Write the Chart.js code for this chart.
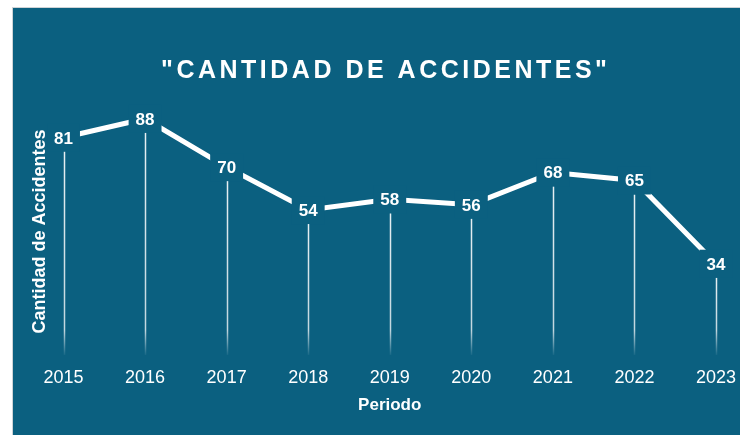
<!DOCTYPE html>
<html>
<head>
<meta charset="utf-8">
<script src="https://cdn.jsdelivr.net/npm/chart.js@4.4.0/dist/chart.umd.min.js"></script>
<style>
  html, body { margin: 0; padding: 0; background: #ffffff; }
  #wrap { width: 740px; height: 435px; }
</style>
</head>
<body>
<div id="wrap"><canvas id="chart" width="740" height="435"></canvas></div>
<script>
// Data
const periods = ['2015', '2016', '2017', '2018', '2019', '2020', '2021', '2022', '2023'];
const accidents = [81, 88, 70, 54, 58, 56, 68, 65, 34];
const chartTitle = '"CANTIDAD DE ACCIDENTES"';
const xAxisTitle = 'Periodo';
const yAxisTitle = 'Cantidad de Accidentes';

const TEAL = '#0b6080';
const FONT = "'Liberation Sans', Arial, Helvetica, sans-serif";

// Page frame: white margin, thin grey edge, teal panel
const panelBackground = {
    id: 'panelBackground',
    beforeDraw: function (chart) {
        const ctx = chart.ctx;
        ctx.save();
        ctx.fillStyle = '#ffffff';
        ctx.fillRect(0, 0, chart.width, chart.height);
        ctx.fillStyle = '#cfd3d6';
        ctx.fillRect(12, 7, chart.width - 12, chart.height - 7);
        ctx.fillStyle = TEAL;
        ctx.fillRect(13, 8, chart.width - 13, chart.height - 8);
        ctx.restore();
    }
};

// Thin fading drop line under every point
const dropLines = {
    id: 'dropLines',
    beforeDatasetsDraw: function (chart) {
        const ctx = chart.ctx;
        const yScale = chart.scales.y;
        const base = yScale.getPixelForValue(0);
        const meta = chart.getDatasetMeta(0);
        ctx.save();
        ctx.lineWidth = 1.5;
        meta.data.forEach(function (pt) {
            const top = pt.y + 14;
            const grad = ctx.createLinearGradient(0, top, 0, base);
            grad.addColorStop(0, 'rgba(255,255,255,0.9)');
            grad.addColorStop(Math.max(0, (base - 25 - top) / (base - top)), 'rgba(255,255,255,0.75)');
            grad.addColorStop(1, 'rgba(255,255,255,0.05)');
            ctx.strokeStyle = grad;
            ctx.beginPath();
            ctx.moveTo(Math.round(pt.x) + 0.5, top);
            ctx.lineTo(Math.round(pt.x) + 0.5, base);
            ctx.stroke();
        });
        ctx.restore();
    }
};

// Value labels sitting on the points, cutting the line
const valueLabels = {
    id: 'valueLabels',
    afterDatasetsDraw: function (chart) {
        const ctx = chart.ctx;
        const meta = chart.getDatasetMeta(0);
        const values = chart.data.datasets[0].data;
        ctx.save();
        ctx.font = 'bold 17px ' + FONT;
        ctx.textAlign = 'center';
        ctx.textBaseline = 'alphabetic';
        meta.data.forEach(function (pt, i) {
            const text = String(values[i]);
            const w = ctx.measureText(text).width;
            ctx.fillStyle = TEAL;
            ctx.fillRect(pt.x - w / 2 - 7, pt.y - 14, w + 14, 28);
            ctx.fillStyle = '#ffffff';
            ctx.fillText(text, pt.x, pt.y + 6);
        });
        ctx.restore();
    }
};

// Spaced-out heading
const spacedTitle = {
    id: 'spacedTitle',
    afterDraw: function (chart) {
        const ctx = chart.ctx;
        ctx.save();
        ctx.font = 'bold 25px ' + FONT;
        ctx.letterSpacing = '3.5px';
        ctx.fillStyle = '#ffffff';
        ctx.textAlign = 'left';
        ctx.textBaseline = 'alphabetic';
        const w = ctx.measureText(chartTitle).width - 3.5;
        ctx.fillText(chartTitle, 384 - w / 2, 78);
        ctx.restore();
    }
};

const config = {
    type: 'line',
    data: {
        labels: periods,
        datasets: [{
            label: yAxisTitle,
            data: accidents,
            borderColor: '#ffffff',
            borderWidth: 5,
            pointRadius: 0,
            pointHoverRadius: 0,
            tension: 0,
            fill: false
        }]
    },
    options: {
        responsive: false,
        devicePixelRatio: 1,
        animation: false,
        layout: { padding: { left: 25, right: 24, top: 108, bottom: 0 } },
        plugins: {
            legend: { display: false },
            title: { display: false },
            tooltip: { enabled: false }
        },
        scales: {
            x: {
                grid: { display: false, drawTicks: false },
                border: { display: false },
                ticks: {
                    color: '#ffffff',
                    padding: 12,
                    font: { family: FONT, size: 18 }
                },
                title: {
                    display: true,
                    text: xAxisTitle,
                    color: '#ffffff',
                    padding: { top: 0, bottom: 19 },
                    font: { family: FONT, size: 17, weight: 'bold' }
                },
                afterFit: function (scale) {
                    scale.height = 80;
                    scale.paddingLeft = 0;
                    scale.paddingRight = 0;
                }
            },
            y: {
                min: 0,
                max: 92,
                grid: { display: false, drawTicks: false },
                border: { display: false },
                ticks: { display: false },
                title: {
                    display: true,
                    text: yAxisTitle,
                    color: '#ffffff',
                    padding: { top: 4, bottom: 0 },
                    font: { family: FONT, size: 18, weight: 'bold' }
                },
                afterFit: function (scale) { scale.width = 38.5; }
            }
        }
    },
    plugins: [panelBackground, dropLines, valueLabels, spacedTitle]
};

new Chart(document.getElementById('chart').getContext('2d'), config);
</script>
</body>
</html>
